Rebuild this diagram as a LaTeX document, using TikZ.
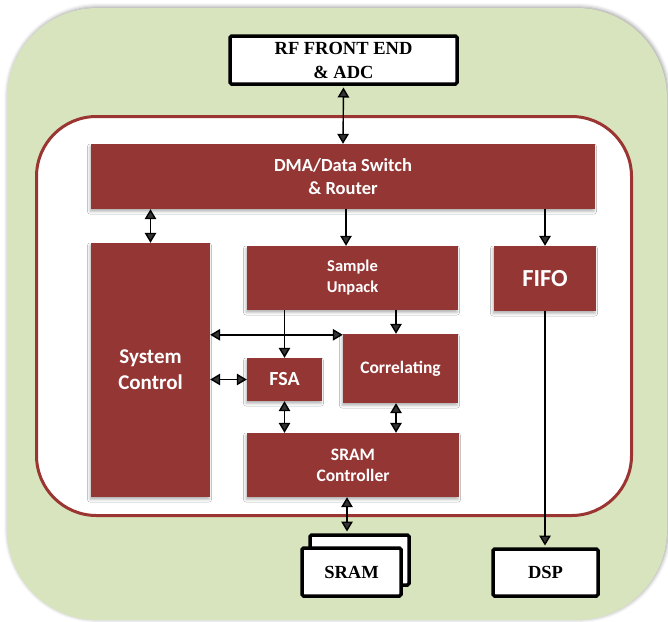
\documentclass[tikz,border=0pt]{standalone}
\usepackage{fontspec}
\setmainfont{Liberation Serif}
\newfontfamily\calibri{Carlito}
\usetikzlibrary{arrows.meta,shadows.blur}

\definecolor{blockred}{HTML}{943634}
\definecolor{panelgreen}{HTML}{D7E4BD}
\definecolor{framered}{HTML}{9B3532}

\tikzset{
  block/.style={fill=blockred, text=white, align=center, inner sep=0pt,
    font=\calibri\bfseries\fontsize{17.5}{21}\selectfont,
    blur shadow={shadow xshift=-1pt, shadow yshift=-2.5pt,
                 shadow blur radius=2.5pt, shadow opacity=30}},
  extbox/.style={draw=black, line width=3.5pt, fill=white, rounded corners=1.5pt,
    align=center, inner sep=0pt, font=\bfseries\fontsize{18.5}{24}\selectfont},
  tip/.tip={Triangle[length=10pt,width=11.5pt]},
  link/.style={line width=1.4pt, -tip},
  both/.style={line width=1.4pt, tip-tip},
}

\begin{document}
\begin{tikzpicture}[x=1pt,y=-1pt]
\useasboundingbox (0,0) rectangle (668,621);

% outer green panel and inner framed area
\fill[panelgreen, rounded corners=90pt,
      blur shadow={shadow xshift=1pt, shadow yshift=1pt,
                   shadow blur radius=4pt, shadow opacity=40}]
  (7,8) rectangle (667,620);
\draw[framered, line width=3pt, fill=white, rounded corners=60pt]
  (36.5,116.5) rectangle (631.5,515.5);

% external devices
\node[extbox, minimum width=227pt, minimum height=48pt] (rf) at (343.5,60) {RF FRONT END\\\& ADC};
\node[extbox, minimum width=99pt, minimum height=50pt] (sramback) at (359.5,560) {};
\node[extbox, minimum width=99pt, minimum height=48pt] (sram) at (351.5,572) {SRAM};
\node[extbox, minimum width=105pt, minimum height=47pt] (dsp) at (545.5,572.5) {DSP};

% processing blocks
\node[block, minimum width=504pt, minimum height=65pt,
      font=\calibri\bfseries\fontsize{18.5}{23}\selectfont] (dma) at (343,176.5) {DMA/Data Switch\\\& Router};
\node[block, minimum width=119pt, minimum height=254pt,
      font=\calibri\bfseries\fontsize{21}{26}\selectfont] (sys) at (150.5,370) {System\\Control};
\node[block, minimum width=211pt, minimum height=64pt,
      font=\calibri\bfseries\fontsize{16.5}{21}\selectfont] (unpack) at (352.5,278) {Sample\\Unpack};
\node[block, minimum width=102pt, minimum height=65pt,
      font=\calibri\bfseries\fontsize{24.5}{28}\selectfont] (fifo) at (545,278.5) {FIFO};
\node[block, minimum width=75pt, minimum height=43pt,
      font=\calibri\bfseries\fontsize{20}{24}\selectfont] (fsa) at (284.5,379.5) {FSA};
\node[block, minimum width=115pt, minimum height=69pt] (corr) at (400.5,368.5) {Correlating};
\node[block, minimum width=212pt, minimum height=64pt] (sramc) at (353,465) {SRAM\\Controller};

% anchor points for offset connectors
\coordinate (unpackin) at ([xshift=-6.5pt]unpack.north);
\coordinate (corrtop) at ([xshift=-4.5pt]corr.north);
\coordinate (corrbot) at ([xshift=-4.5pt]corr.south);
\coordinate (busrow) at ([yshift=-1pt]corr.north west);
\coordinate (sramport) at ([xshift=-6pt]sramc.south);

% connectors
\draw[both, shorten <=1.75pt] (rf.south) -- (dma.north);
\draw[both] (sys.north |- dma.south) -- (sys.north);
\draw[link] (unpackin |- dma.south) -- (unpackin);
\draw[link] (fifo.north |- dma.south) -- (fifo.north);
\draw[link] (fsa.north |- unpack.south) -- (fsa.north);
\draw[link] (corrtop |- unpack.south) -- (corrtop);
\draw[both] (busrow -| sys.east) -- (busrow);
\draw[both] (fsa.west -| sys.east) -- (fsa.west);
\draw[both] (fsa.south) -- (fsa.south |- sramc.north);
\draw[both] (corrbot) -- (corrbot |- sramc.north);
\draw[both, shorten >=1.75pt] (sramport) -- (sramport |- sramback.north);
\draw[link, shorten >=1.75pt] (fifo.south) -- (fifo.south |- dsp.north);
\end{tikzpicture}
\end{document}
